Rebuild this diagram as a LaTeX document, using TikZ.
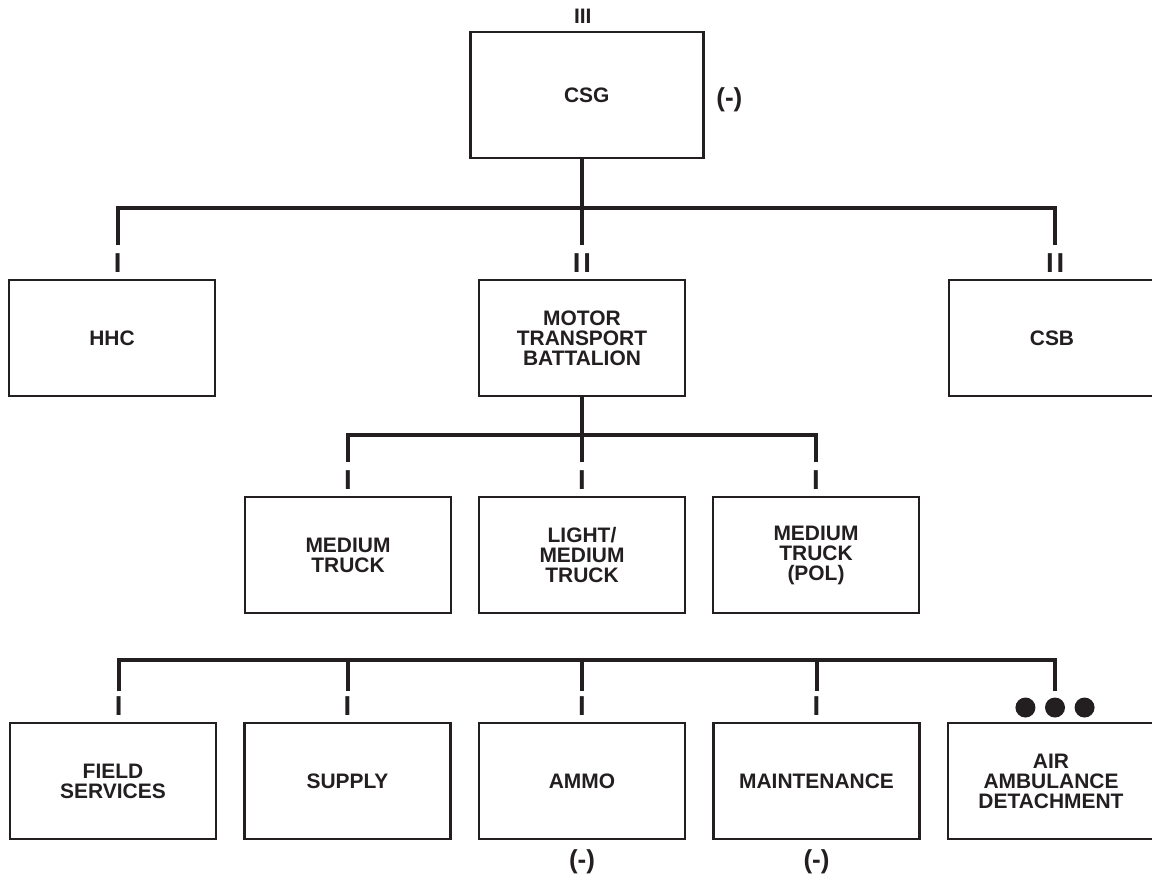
\documentclass[tikz,border=0pt]{standalone}
\usepackage{fontspec}
\setmainfont{Liberation Sans}
\usetikzlibrary{positioning}
\definecolor{ink}{HTML}{231F20}

\begin{document}
\begin{tikzpicture}[
    node distance=0.7cm,
    every node/.style={font=\fontsize{14.9}{14.2}\selectfont\bfseries, text=ink},
    unit/.style={draw=ink, line width=2.1pt, align=center, minimum width=5.15cm, minimum height=2.9cm, inner sep=0pt, outer sep=0pt},
    group/.style={unit, minimum width=5.825cm, minimum height=3.15cm},
    echelon/.style={inner sep=0pt, font=\fontsize{19.5}{19.5}\selectfont\bfseries},
    reduced/.style={inner sep=0pt, font=\fontsize{18.5}{18.5}\selectfont\bfseries},
    dot/.style={circle, fill=ink, minimum size=0.5cm, inner sep=0pt},
    link/.style={draw=ink, line width=2.85pt}
]
\useasboundingbox (0,0) rectangle (28.8,-21.925);
% battalion row and group
\node[unit] (mtb) at (14.55,-8.45) {MOTOR\\TRANSPORT\\BATTALION};
\node[unit, left=6.6cm of mtb] (hhc) {HHC};
\node[unit, right=6.6cm of mtb] (csb) {CSB};
\node[group, above=3.05cm of mtb, xshift=0.12cm] (csg) {CSG};
\node[inner sep=0pt, above=0.2cm of csg, xshift=-0.1cm] (csg-ech) {III};
\node[reduced, right=0.32cm of csg, yshift=-0.13cm] (csg-minus) {(-)};
% truck companies
\node[unit, below=2.525cm of mtb] (ltmed) {LIGHT/\\MEDIUM\\TRUCK};
\node[unit, left=of ltmed] (medtrk) {MEDIUM\\TRUCK};
\node[unit, right=of ltmed] (pol) {MEDIUM\\TRUCK\\(POL)};
% bottom row
\node[unit, below=2.75cm of ltmed] (ammo) {AMMO};
\node[unit, left=0.7125cm of ammo] (supply) {SUPPLY};
\node[unit, left=0.7125cm of supply] (fldsvc) {FIELD\\SERVICES};
\node[unit, right=0.7125cm of ammo] (maint) {MAINTENANCE};
\node[unit, right=0.7125cm of maint] (airamb) {AIR\\AMBULANCE\\DETACHMENT};
\node[reduced, below=0.26cm of ammo] (ammo-minus) {(-)};
\node[reduced, below=0.26cm of maint] (maint-minus) {(-)};
% echelon marks
\foreach \u/\m/\s in {hhc/I/0.14, mtb/I\kern2pt I/0, csb/I\kern2pt I/0.08, medtrk/I/0, ltmed/I/0, pol/I/0,
    fldsvc/I/0.14, supply/I/0, ammo/I/0, maint/I/0}
  \node[echelon, above=0.175cm of \u, xshift=\s cm] (\u-ech) {\m};
\node[dot, above=0.13cm of airamb, xshift=0.1cm] (dot2) {};
\node[dot, left=0.225cm of dot2] (dot1) {};
\node[dot, right=0.225cm of dot2] (dot3) {};
% drop points and buses
\foreach \u/\s in {hhc/0.14, mtb/0, csb/0.08, medtrk/0, ltmed/0, pol/0}
  \coordinate[above=0.875cm of \u, xshift=\s cm] (\u-in);
\foreach \u/\s in {fldsvc/0.14, supply/0, ammo/0, maint/0, airamb/0.1}
  \coordinate[above=0.8cm of \u, xshift=\s cm] (\u-in);
\coordinate[above=1.8cm of mtb] (bus1);
\coordinate[above=1.55cm of ltmed] (bus2);
\coordinate[above=1.575cm of ammo] (bus3);
\draw[link] (csg.south -| mtb-in) -- (mtb-in);
\draw[link] (hhc-in) -- (hhc-in |- bus1) -- (csb-in |- bus1) -- (csb-in);
\draw[link] (mtb) -- (ltmed-in);
\draw[link] (medtrk-in) -- (medtrk-in |- bus2) -- (pol-in |- bus2) -- (pol-in);
\draw[link] (fldsvc-in) -- (fldsvc-in |- bus3) -- (airamb-in |- bus3) -- (airamb-in);
\foreach \u in {supply, ammo, maint}
  \draw[link] (\u-in |- bus3) -- (\u-in);
\end{tikzpicture}
\end{document}
